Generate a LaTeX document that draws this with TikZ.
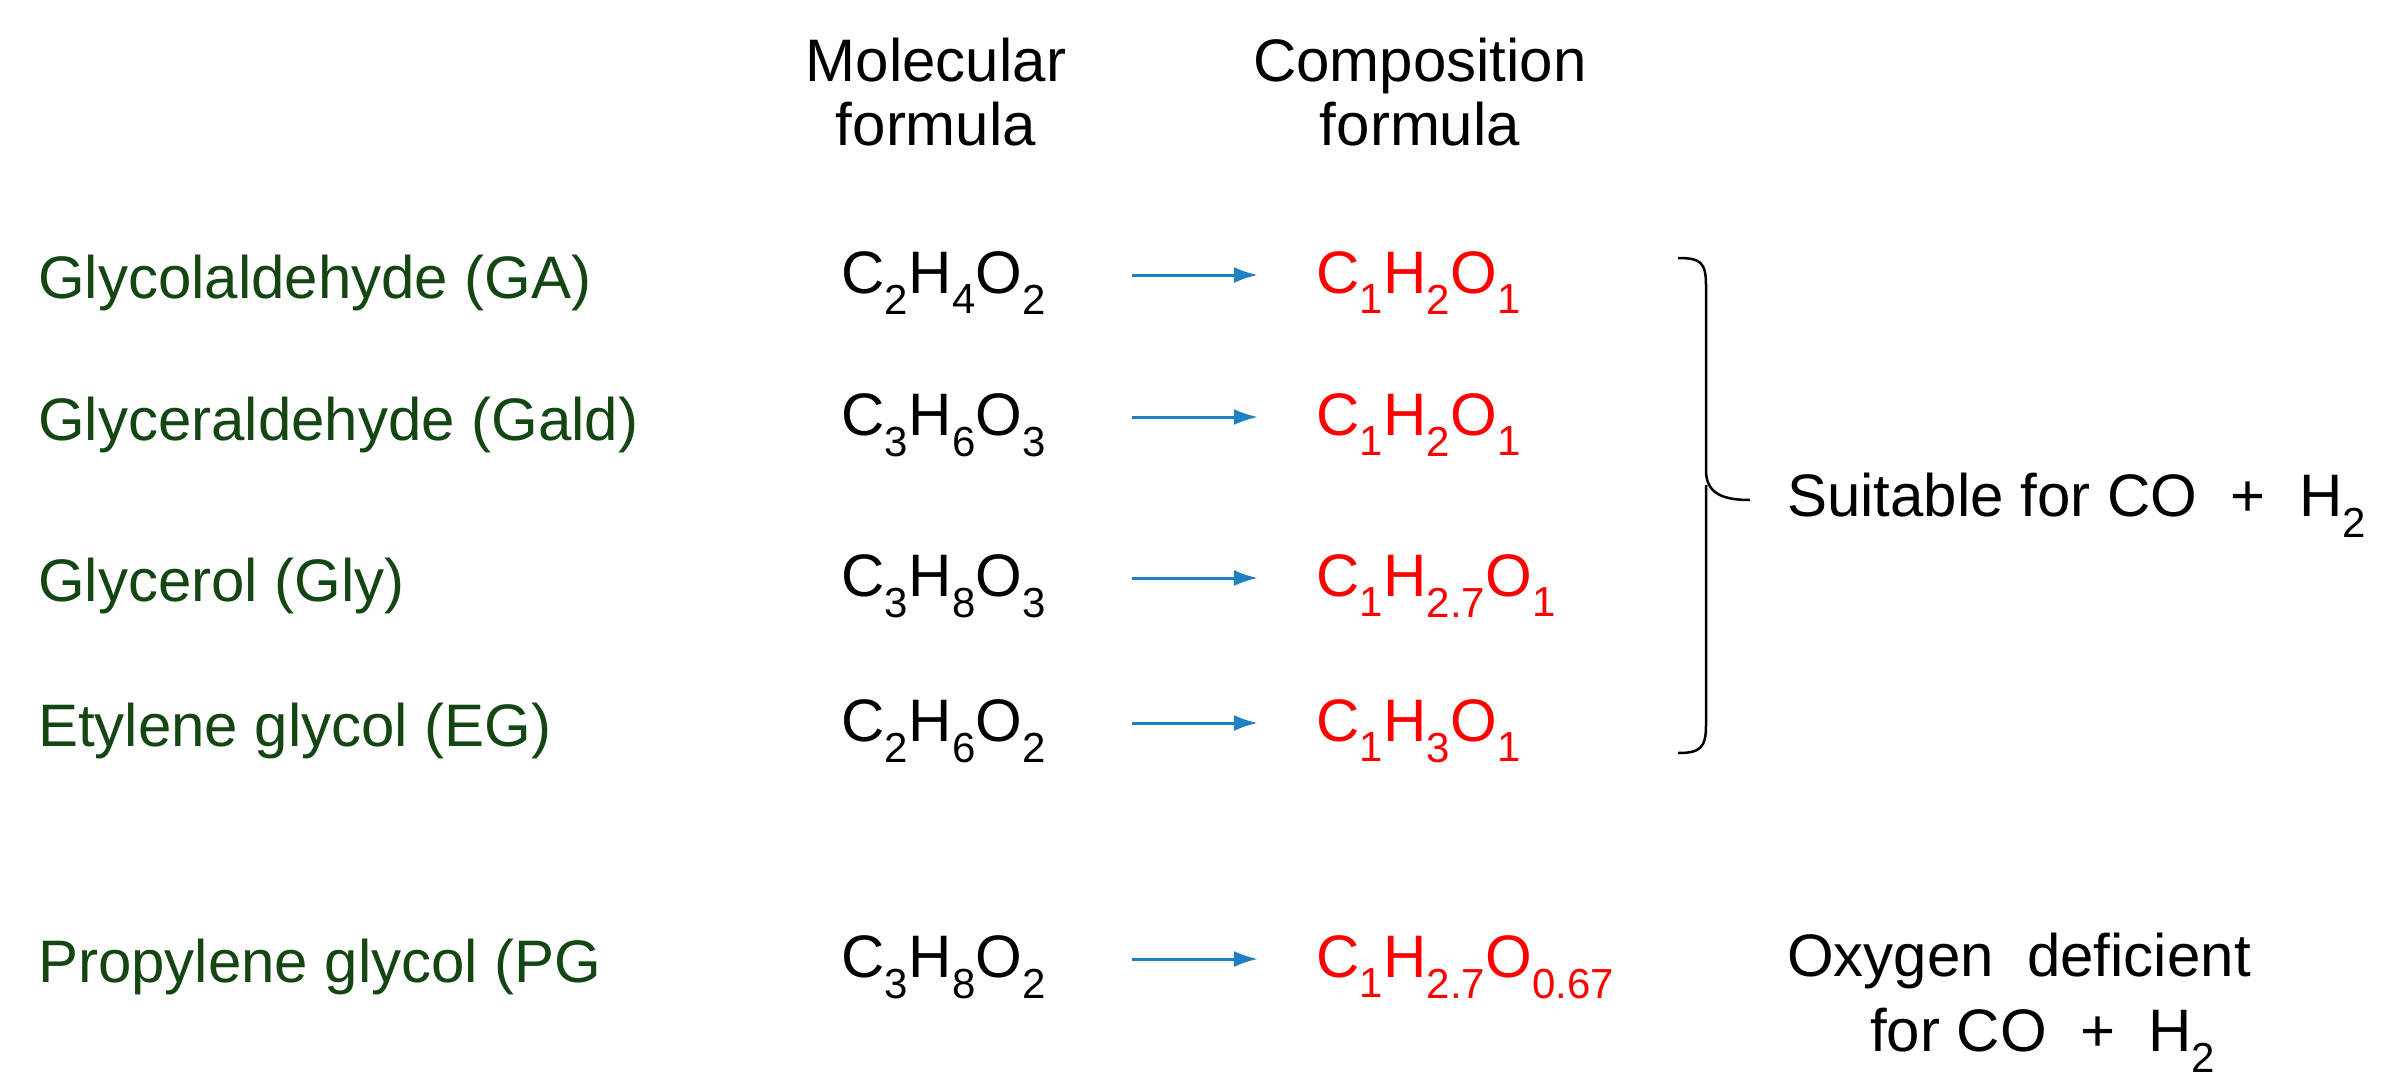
\documentclass[tikz,border=0pt]{standalone}
\usepackage{fontspec}
\setmainfont{Liberation Sans}
\usetikzlibrary{arrows.meta}
\definecolor{dkgreen}{RGB}{20,70,20}
\definecolor{arrblue}{RGB}{31,128,196}
\newcommand{\sbs}[1]{\textsubscript{#1}}
\begin{document}
\begin{tikzpicture}[x=1pt,y=-1pt,
  every node/.style={font=\fontsize{60}{64}\selectfont,inner sep=0pt},
  cmpd/.style={anchor=west,text=dkgreen},
  mol/.style={anchor=center},
  comp/.style={anchor=west,text=red},
  arr/.style={draw=arrblue,line width=3pt,-{Latex[length=24pt,width=16pt]}}]
\useasboundingbox (0,0) rectangle (2386,1088);
\node[align=center] (h1) at (936,92) {Molecular\\formula};
\node[align=center] (h2) at (1420,92) {Composition\\formula};
\foreach \i/\y/\n/\m/\c in {
 1/283/{Glycolaldehyde (GA)}/{C\sbs{2}H\sbs{4}O\sbs{2}}/{C\sbs{1}H\sbs{2}O\sbs{1}},
 2/425/{Glyceraldehyde (Gald)}/{C\sbs{3}H\sbs{6}O\sbs{3}}/{C\sbs{1}H\sbs{2}O\sbs{1}},
 3/586/{Glycerol (Gly)}/{C\sbs{3}H\sbs{8}O\sbs{3}}/{C\sbs{1}H\sbs{2.7}O\sbs{1}},
 4/731/{Etylene glycol (EG)}/{C\sbs{2}H\sbs{6}O\sbs{2}}/{C\sbs{1}H\sbs{3}O\sbs{1}},
 5/967/{Propylene glycol (PG}/{C\sbs{3}H\sbs{8}O\sbs{2}}/{C\sbs{1}H\sbs{2.7}O\sbs{0.67}}}{
 \node[cmpd] (n\i) at (38,\y) {\n};
 \node[mol] (m\i) at (944,\y) {\m};
 \node[comp] (c\i) at (1316,\y) {\c};
 \coordinate (a\i) at (1132,\y-8);
 \coordinate (b\i) at (1258,\y-8);
 \draw[arr] (a\i) -- (b\i);
}
\coordinate (bt) at (1678,258);
\coordinate (bb) at (1678,753);
\coordinate (tip) at (1750,500);
\draw[line width=2.5pt,line join=round] (bt) .. controls (1700,258) and (1706,262) .. (1706,285)
 -- (1706,470) .. controls (1706,492) and (1720,500) .. (tip)
 (1706,485) -- (1706,725)
 .. controls (1706,748) and (1700,753) .. (bb);
\node[anchor=west] (s) at (1787,505) {Suitable for CO \ + \ H\sbs{2}};
\node[anchor=west] (o1) at (1787,961) {Oxygen \ deficient};
\node[anchor=west] (o2) at (1870,1040) {for CO \ + \ H\sbs{2}};
\end{tikzpicture}
\end{document}
